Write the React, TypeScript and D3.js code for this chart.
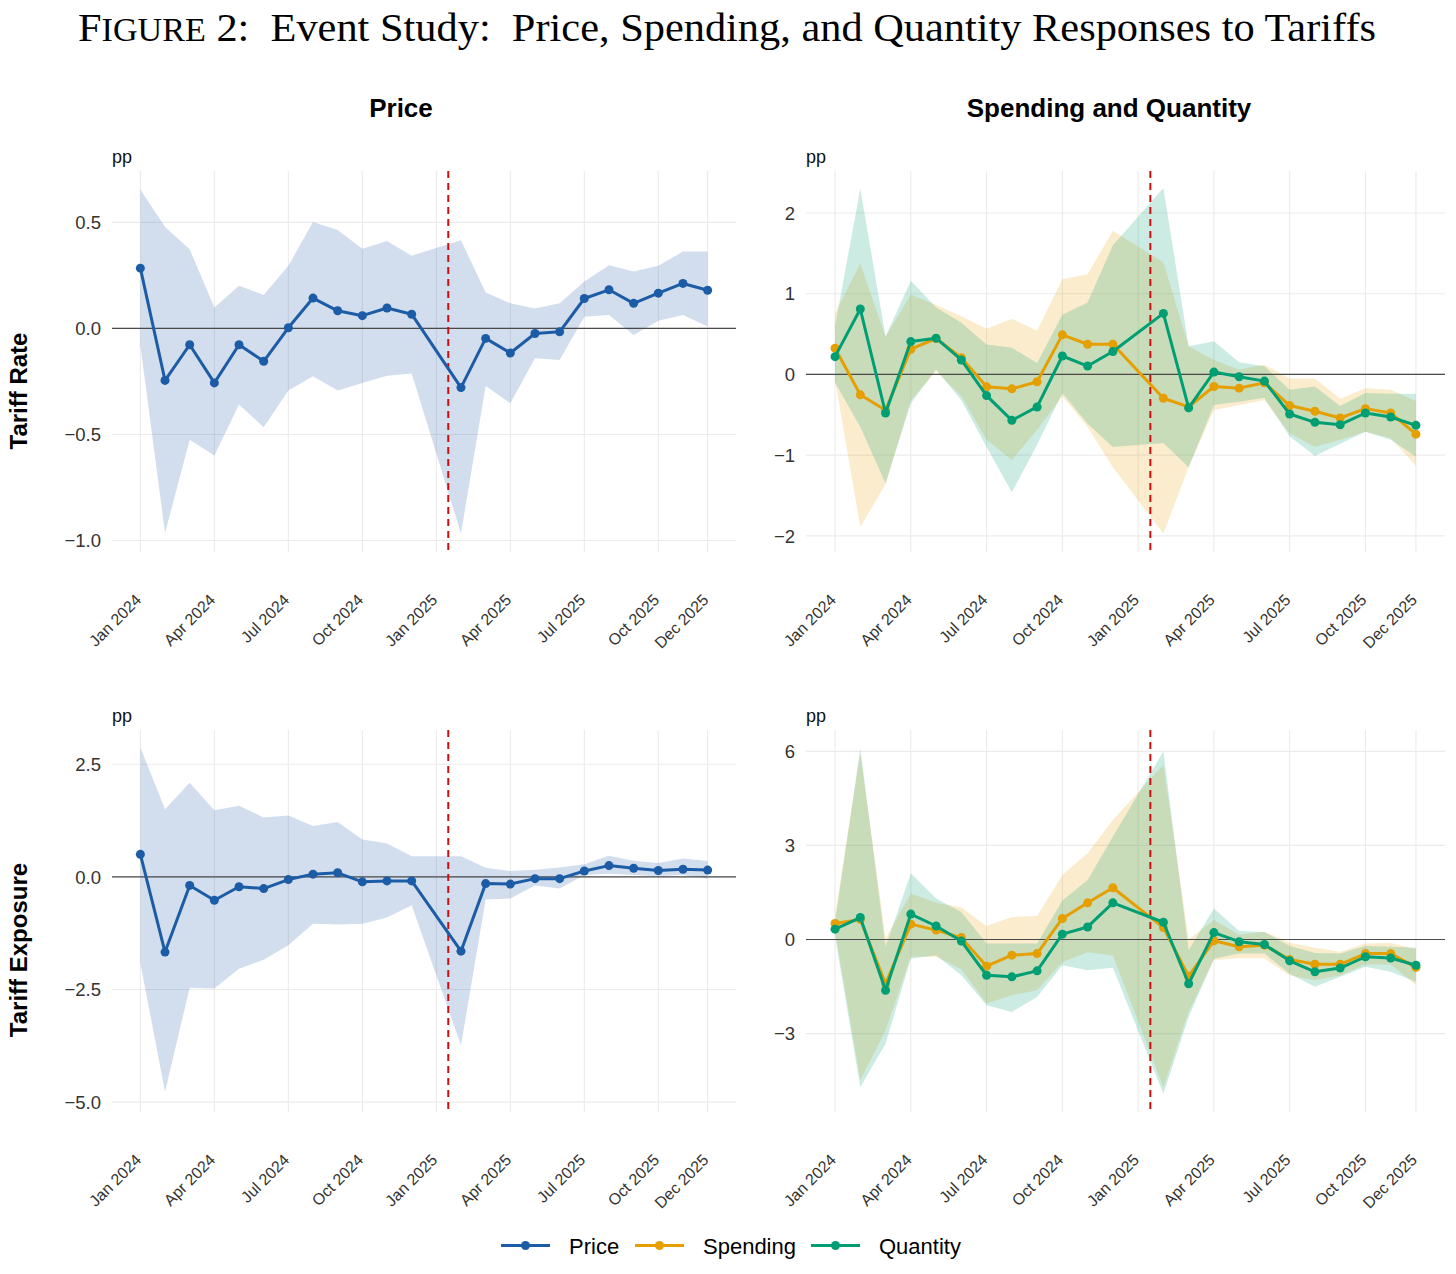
import React from "react";
import * as d3 from "d3";

// ---------- DATA ----------
const months = [
  "2024-01", "2024-02", "2024-03", "2024-04", "2024-05", "2024-06",
  "2024-07", "2024-08", "2024-09", "2024-10", "2024-11", "2024-12",
  "2025-02", "2025-03", "2025-04", "2025-05", "2025-06",
  "2025-07", "2025-08", "2025-09", "2025-10", "2025-11", "2025-12",
];
const tickMonths = ["2024-01", "2024-04", "2024-07", "2024-10", "2025-01", "2025-04", "2025-07", "2025-10", "2025-12"];
const tickLabels = ["Jan 2024", "Apr 2024", "Jul 2024", "Oct 2024", "Jan 2025", "Apr 2025", "Jul 2025", "Oct 2025", "Dec 2025"];
const eventDate = "2025-01-16";

// Price – Tariff Rate
const priceRate = [0.284, -0.245, -0.077, -0.257, -0.077, -0.155, 0.003, 0.143, 0.083, 0.060, 0.096, 0.067, -0.279, -0.047, -0.116, -0.024, -0.016, 0.141, 0.182, 0.118, 0.166, 0.212, 0.180];
const priceRateHi = [0.655, 0.478, 0.373, 0.099, 0.201, 0.158, 0.295, 0.502, 0.464, 0.376, 0.412, 0.342, 0.415, 0.169, 0.118, 0.094, 0.118, 0.221, 0.298, 0.268, 0.295, 0.362, 0.362];
const priceRateLo = [-0.08, -0.964, -0.525, -0.599, -0.359, -0.466, -0.293, -0.226, -0.293, -0.257, -0.223, -0.212, -0.967, -0.271, -0.353, -0.141, -0.149, 0.055, 0.063, -0.031, 0.036, 0.063, 0.009];

// Spending / Quantity – Tariff Rate
const spendRate = [0.324, -0.253, -0.445, 0.312, 0.445, 0.208, -0.154, -0.179, -0.091, 0.490, 0.374, 0.374, -0.295, -0.403, -0.150, -0.170, -0.104, -0.386, -0.457, -0.540, -0.424, -0.478, -0.740];
const spendRateHi = [0.76, 1.375, 0.47, 0.99, 0.86, 0.72, 0.565, 0.69, 0.54, 1.18, 1.24, 1.78, 1.39, 0.35, 0.18, 0.06, 0.12, -0.05, -0.05, -0.30, -0.17, -0.19, -0.33];
const spendRateLo = [-0.07, -1.89, -1.36, -0.32, 0.04, -0.27, -0.81, -1.06, -0.69, -0.27, -0.65, -1.15, -1.97, -1.15, -0.44, -0.38, -0.32, -0.73, -0.90, -0.81, -0.71, -0.79, -1.13];
const qtyRate = [0.220, 0.810, -0.478, 0.407, 0.449, 0.179, -0.262, -0.569, -0.403, 0.228, 0.104, 0.283, 0.756, -0.415, 0.029, -0.029, -0.083, -0.490, -0.594, -0.623, -0.478, -0.528, -0.631];
const qtyRateHi = [0.60, 2.30, 0.47, 1.16, 0.83, 0.64, 0.37, 0.33, 0.14, 0.74, 0.89, 1.60, 2.31, 0.35, 0.41, 0.15, 0.10, -0.19, -0.15, -0.39, -0.23, -0.24, -0.24];
const qtyRateLo = [-0.10, -0.65, -1.35, -0.36, 0.06, -0.32, -0.90, -1.46, -0.87, -0.23, -0.61, -0.90, -0.85, -1.15, -0.38, -0.34, -0.29, -0.77, -1.01, -0.86, -0.71, -0.81, -1.02];

// Price – Tariff Exposure
const priceExp = [0.50, -1.67, -0.19, -0.52, -0.22, -0.26, -0.06, 0.06, 0.09, -0.11, -0.09, -0.09, -1.65, -0.15, -0.16, -0.04, -0.04, 0.13, 0.25, 0.19, 0.14, 0.17, 0.15];
const priceExpHi = [2.87, 1.50, 2.09, 1.48, 1.58, 1.32, 1.36, 1.13, 1.22, 0.83, 0.74, 0.46, 0.46, 0.20, 0.13, 0.16, 0.21, 0.28, 0.47, 0.36, 0.31, 0.41, 0.35];
const priceExpLo = [-1.92, -4.77, -2.46, -2.48, -2.04, -1.84, -1.52, -1.04, -1.06, -1.04, -0.90, -0.63, -3.74, -0.50, -0.48, -0.19, -0.26, 0.04, 0.07, 0.04, 0.02, 0.04, -0.04];

// Spending / Quantity – Tariff Exposure
const spendExp = [0.51, 0.64, -1.41, 0.49, 0.30, 0.06, -0.85, -0.50, -0.45, 0.67, 1.17, 1.65, 0.38, -1.17, -0.04, -0.23, -0.18, -0.64, -0.79, -0.79, -0.45, -0.45, -0.89];
const spendExpHi = [0.77, 5.94, 0.03, 1.47, 1.17, 1.02, 0.43, 0.72, 0.75, 2.06, 2.75, 3.81, 5.57, 0.0, 0.62, 0.15, 0.25, -0.10, -0.26, -0.39, -0.13, -0.11, -0.30];
const spendExpLo = [0.25, -4.49, -2.90, -0.55, -0.55, -0.95, -2.04, -1.78, -1.62, -0.72, -0.41, -0.51, -4.71, -2.30, -0.65, -0.60, -0.60, -1.15, -1.30, -1.15, -0.80, -0.80, -1.45];
const qtyExp = [0.33, 0.70, -1.62, 0.81, 0.43, -0.05, -1.14, -1.19, -1.00, 0.17, 0.40, 1.17, 0.55, -1.41, 0.22, -0.07, -0.16, -0.68, -1.03, -0.91, -0.55, -0.59, -0.82];
const qtyExpHi = [0.56, 6.10, -0.23, 2.11, 1.31, 0.88, -0.13, -0.13, -0.13, 1.24, 1.90, 3.28, 6.00, -0.34, 0.99, 0.27, 0.24, -0.21, -0.43, -0.45, -0.21, -0.23, -0.26];
const qtyExpLo = [0.10, -4.71, -3.32, -0.61, -0.50, -1.14, -2.10, -2.31, -1.83, -0.82, -0.98, -0.90, -4.92, -2.47, -0.61, -0.45, -0.45, -1.09, -1.51, -1.19, -0.87, -1.03, -1.35];

const rateTicksLeft = [-1.0, -0.5, 0, 0.5];
const rateTicksRight = [-2, -1, 0, 1, 2];
const expTicksLeft = [-5.0, -2.5, 0, 2.5];
const expTicksRight = [-3, 0, 3, 6];

const seriesNames = ["Price", "Spending", "Quantity"];

// ---------- STYLE ----------
const W = 1456;
const H = 1274;
const SANS = "'Liberation Sans', Arial, Helvetica, sans-serif";
const SERIF = "'Liberation Serif', 'DejaVu Serif', 'Times New Roman', serif";
const COLORS: Record<string, string> = { Price: "#1c5ca6", Spending: "#E69F00", Quantity: "#009E73" };
const GRID = "#ebebeb";
const EVENT_RED = "#cc0f0f";

function monthIndex(s: string): number {
  const parts = s.split("-").map(Number);
  const y = parts[0], m = parts[1], d = parts[2];
  const base = (y - 2024) * 12 + (m - 1);
  if (!d) return base;
  const dim = new Date(y, m, 0).getDate();
  return base + (d - 1) / dim;
}

type Series = { name: string; values: number[]; lo: number[]; hi: number[] };

type PanelProps = {
  x0: number; x1: number; y0: number; y1: number;
  domain: [number, number];
  ticks: number[];
  fmt: (v: number) => string;
  series: Series[];
};

function Panel({ x0, x1, y0, y1, domain, ticks, fmt, series }: PanelProps) {
  const xIdx = months.map(monthIndex);
  const xMax = d3.max(xIdx) as number;
  const pad = xMax * 0.05;
  const x = d3.scaleLinear().domain([0 - pad, xMax + pad]).range([x0, x1]);
  const y = d3.scaleLinear().domain(domain).range([y1, y0]);

  const line = d3.line<number>().x((_, i) => x(xIdx[i])).y((d) => y(d));
  const ev = x(monthIndex(eventDate));

  return (
    <g>
      {ticks.map((t) => (
        <line key={"h" + t} x1={x0} x2={x1} y1={y(t)} y2={y(t)} stroke={GRID} strokeWidth={1.1} />
      ))}
      {tickMonths.map((m) => (
        <line key={"v" + m} x1={x(monthIndex(m))} x2={x(monthIndex(m))} y1={y0} y2={y1} stroke={GRID} strokeWidth={1.1} />
      ))}
      {series.map((s) => {
        const a = d3.area<number>()
          .x((_, i) => x(xIdx[i]))
          .y0((d) => y(d))
          .y1((_, i) => y(s.hi[i]));
        return <path key={"r" + s.name} d={a(s.lo) || ""} fill={COLORS[s.name]} fillOpacity={0.2} stroke="none" />;
      })}
      <line x1={x0} x2={x1} y1={y(0)} y2={y(0)} stroke="#4a4a4a" strokeWidth={1.2} />
      <line x1={ev} x2={ev} y1={y0} y2={y1} stroke={EVENT_RED} strokeWidth={2} strokeDasharray="7,5" />
      {series.map((s) => (
        <g key={"l" + s.name}>
          <path d={line(s.values) || ""} fill="none" stroke={COLORS[s.name]} strokeWidth={3} strokeLinejoin="round" />
          {s.values.map((v, i) => (
            <circle key={i} cx={x(xIdx[i])} cy={y(v)} r={4.5} fill={COLORS[s.name]} />
          ))}
        </g>
      ))}
      {ticks.map((t) => (
        <text key={"yl" + t} x={x0 - 11} y={y(t)} dy="0.36em" textAnchor="end" fontFamily={SANS} fontSize={18.5} fill="#333">
          {fmt(t)}
        </text>
      ))}
      {tickMonths.map((m, i) => (
        <text
          key={"xl" + m}
          transform={`translate(${x(monthIndex(m)) + 2},${y1 + 49}) rotate(-45)`}
          textAnchor="end"
          fontFamily={SANS}
          fontSize={16}
          fill="#333"
        >
          {tickLabels[i]}
        </text>
      ))}
      <text x={x0} y={y0 - 8} fontFamily={SANS} fontSize={18} fill="#111">pp</text>
    </g>
  );
}

export default function App() {
  const f1 = d3.format(".1f");
  const f0 = d3.format("d");
  const L = { x0: 112, x1: 736 };
  const R = { x0: 806, x1: 1445 };
  const T = { y0: 171, y1: 552 };
  const B = { y0: 730, y1: 1112 };

  const legendItems = [
    { name: seriesNames[0], lx: 501, tx: 569 },
    { name: seriesNames[1], lx: 635, tx: 703 },
    { name: seriesNames[2], lx: 811, tx: 879 },
  ];

  return (
    <svg width={W} height={H} style={{ position: "absolute", left: 0, top: 0, background: "#fff" }}>
      <rect x={0} y={0} width={W} height={H} fill="#fff" />
      <text x={727} y={41} textAnchor="middle" fontFamily={SERIF} fontSize={41} fill="#000"
        textLength={1298} lengthAdjust="spacingAndGlyphs" style={{ whiteSpace: "pre" }}>
        F<tspan fontSize={33}>IGURE</tspan>{" 2:  Event Study:  Price, Spending, and Quantity Responses to Tariffs"}
      </text>
      <text x={401} y={117} textAnchor="middle" fontFamily={SANS} fontWeight="bold" fontSize={26} fill="#000">Price</text>
      <text x={1109} y={117} textAnchor="middle" fontFamily={SANS} fontWeight="bold" fontSize={26} fill="#000">Spending and Quantity</text>
      <text transform="translate(27,391) rotate(-90)" textAnchor="middle" fontFamily={SANS} fontWeight="bold" fontSize={24} fill="#000">Tariff Rate</text>
      <text transform="translate(27,950) rotate(-90)" textAnchor="middle" fontFamily={SANS} fontWeight="bold" fontSize={24} fill="#000">Tariff Exposure</text>

      <Panel {...L} {...T} domain={[-1.054, 0.742]} ticks={rateTicksLeft} fmt={f1}
        series={[{ name: "Price", values: priceRate, lo: priceRateLo, hi: priceRateHi }]} />
      <Panel {...R} {...T} domain={[-2.2, 2.52]} ticks={rateTicksRight} fmt={f0}
        series={[
          { name: "Spending", values: spendRate, lo: spendRateLo, hi: spendRateHi },
          { name: "Quantity", values: qtyRate, lo: qtyRateLo, hi: qtyRateHi },
        ]} />
      <Panel {...L} {...B} domain={[-5.22, 3.26]} ticks={expTicksLeft} fmt={f1}
        series={[{ name: "Price", values: priceExp, lo: priceExpLo, hi: priceExpHi }]} />
      <Panel {...R} {...B} domain={[-5.5, 6.68]} ticks={expTicksRight} fmt={f0}
        series={[
          { name: "Spending", values: spendExp, lo: spendExpLo, hi: spendExpHi },
          { name: "Quantity", values: qtyExp, lo: qtyExpLo, hi: qtyExpHi },
        ]} />

      {legendItems.map((it) => (
        <g key={it.name}>
          <line x1={it.lx} x2={it.lx + 49} y1={1245.5} y2={1245.5} stroke={COLORS[it.name]} strokeWidth={3} />
          <circle cx={it.lx + 24.5} cy={1245.5} r={4.5} fill={COLORS[it.name]} />
          <text x={it.tx} y={1253.5} fontFamily={SANS} fontSize={22} fill="#000">{it.name}</text>
        </g>
      ))}
    </svg>
  );
}
